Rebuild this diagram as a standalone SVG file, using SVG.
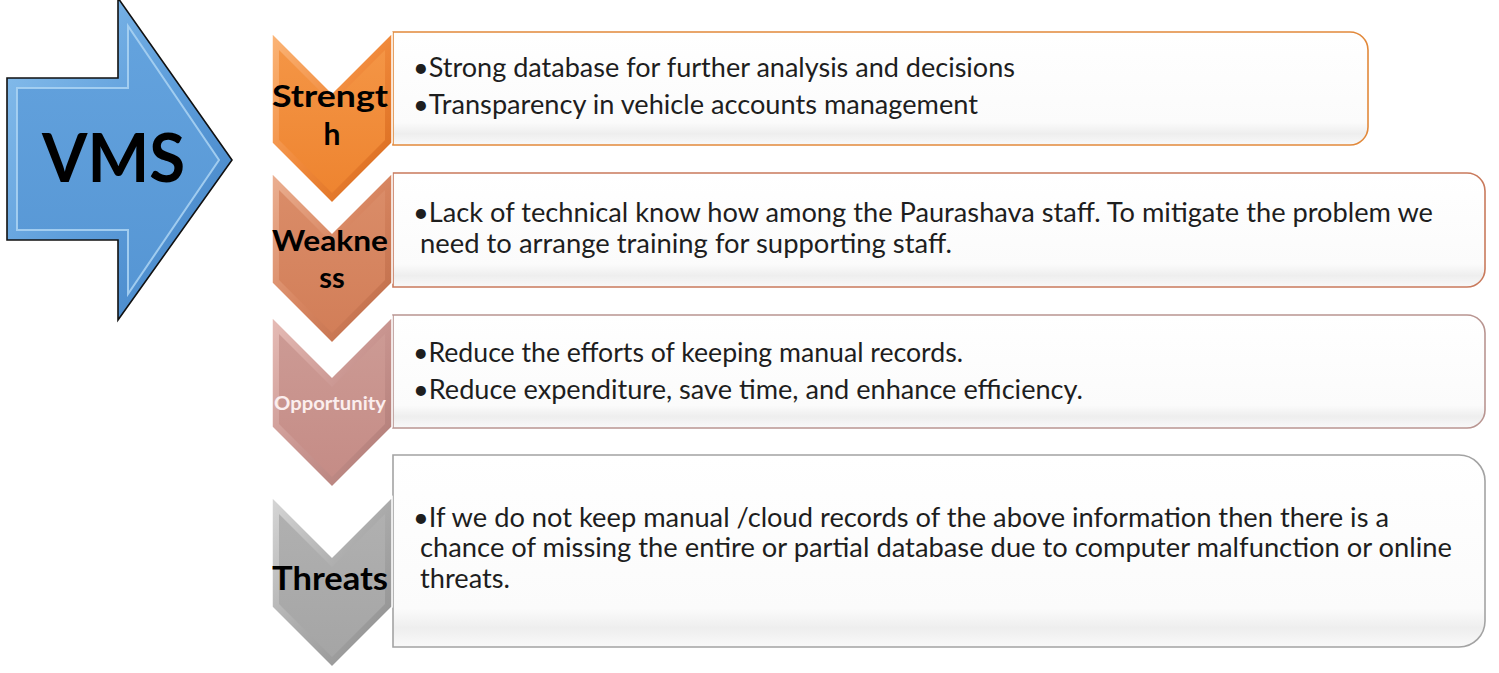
<svg xmlns="http://www.w3.org/2000/svg" width="1499" height="673" viewBox="0 0 1499 673">
<style>
.txt{font-family:Lato,"Open Sans","Liberation Sans",sans-serif;font-size:27px;fill:#1e1e1e}
.lbl{font-family:Lato,"Liberation Sans",sans-serif;font-weight:bold;fill:#000}
.box{stroke-width:1.6}
.chev{stroke:#ffffff;stroke-width:1.5}
</style>
<defs>
<linearGradient id="boxFill" x1="0" y1="0" x2="0" y2="1">
<stop offset="0" stop-color="#ffffff"/><stop offset="0.8" stop-color="#fbfbfb"/><stop offset="0.9" stop-color="#eeeeee"/><stop offset="1" stop-color="#f9f9f9"/>
</linearGradient>
<linearGradient id="blueOuter" x1="0" y1="0" x2="1" y2="1">
<stop offset="0" stop-color="#8cc2ee"/><stop offset="0.5" stop-color="#5e9edb"/><stop offset="1" stop-color="#3f7fc2"/>
</linearGradient>
<linearGradient id="blueInner" x1="0" y1="0" x2="0" y2="1">
<stop offset="0" stop-color="#64a3de"/><stop offset="1" stop-color="#5696d4"/>
</linearGradient>
<linearGradient id="orO" x1="0" y1="0" x2="1" y2="1"><stop offset="0" stop-color="#fbb578"/><stop offset="0.5" stop-color="#f0893a"/><stop offset="1" stop-color="#d5661a"/></linearGradient>
<linearGradient id="orI" x1="0" y1="0" x2="0" y2="1"><stop offset="0" stop-color="#f49545"/><stop offset="1" stop-color="#ee8430"/></linearGradient>
<linearGradient id="teO" x1="0" y1="0" x2="1" y2="1"><stop offset="0" stop-color="#ebb092"/><stop offset="0.5" stop-color="#d78560"/><stop offset="1" stop-color="#bb6946"/></linearGradient>
<linearGradient id="teI" x1="0" y1="0" x2="0" y2="1"><stop offset="0" stop-color="#da8c68"/><stop offset="1" stop-color="#d27e58"/></linearGradient>
<linearGradient id="piO" x1="0" y1="0" x2="1" y2="1"><stop offset="0" stop-color="#e6bcb6"/><stop offset="0.5" stop-color="#c99590"/><stop offset="1" stop-color="#ad7873"/></linearGradient>
<linearGradient id="piI" x1="0" y1="0" x2="0" y2="1"><stop offset="0" stop-color="#cc9a94"/><stop offset="1" stop-color="#c58c86"/></linearGradient>
<linearGradient id="grO" x1="0" y1="0" x2="1" y2="1"><stop offset="0" stop-color="#d6d6d6"/><stop offset="0.5" stop-color="#ababab"/><stop offset="1" stop-color="#8c8c8c"/></linearGradient>
<linearGradient id="grI" x1="0" y1="0" x2="0" y2="1"><stop offset="0" stop-color="#b0b0b0"/><stop offset="1" stop-color="#a5a5a5"/></linearGradient>
<path id="chevOuter" d="M0,0 L60,60 L120,0 L120,110 L60,170 L0,110 Z"/>
<path id="chevInner" d="M7,16.9 L60,69.9 L113,16.9 L113,107.1 L60,160.1 L7,107.1 Z"/>
</defs>
<rect width="1499" height="673" fill="#ffffff"/>

<g id="vms">
<path d="M7,78 H118 V-2 L232,160 L118,320 V240 H7 Z" fill="url(#blueOuter)" stroke="#111" stroke-width="1.6"/>
<path d="M17,88 H128 V26 L219,160 L128,294 V230 H17 Z" fill="url(#blueInner)" stroke="#a9d2f2" stroke-width="2" stroke-opacity="0.9"/>
<text class="lbl" x="42" y="182" font-size="66" textLength="143" lengthAdjust="spacingAndGlyphs">VMS</text>
</g>

<g id="strength">
<path class="box" d="M393,32 H1350 A18,18 0 0 1 1368,50 V127 A18,18 0 0 1 1350,145 H393 Z" fill="url(#boxFill)" stroke="#e2893b"/>
<g transform="translate(272,33)">
<use href="#chevOuter" class="chev" fill="url(#orO)"/>
<use href="#chevInner" fill="url(#orI)"/>
</g>
<text class="lbl" x="272" y="107" font-size="30" textLength="116" lengthAdjust="spacingAndGlyphs">Strengt</text>
<text class="lbl" x="332" y="145" font-size="30" text-anchor="middle">h</text>
<text class="txt" x="413" y="77" textLength="602" lengthAdjust="spacingAndGlyphs">•Strong database for further analysis and decisions</text>
<text class="txt" x="413" y="114" textLength="565" lengthAdjust="spacingAndGlyphs">•Transparency in vehicle accounts management</text>
</g>

<g id="weakness">
<path class="box" d="M393,173 H1467 A18,18 0 0 1 1485,191 V269 A18,18 0 0 1 1467,287 H393 Z" fill="url(#boxFill)" stroke="#c97a5c"/>
<g transform="translate(272,173)">
<use href="#chevOuter" class="chev" fill="url(#teO)"/>
<use href="#chevInner" fill="url(#teI)"/>
</g>
<text class="lbl" x="272" y="251" font-size="29" textLength="116" lengthAdjust="spacingAndGlyphs">Weakne</text>
<text class="lbl" x="332" y="288" font-size="29" text-anchor="middle">ss</text>
<text class="txt" x="413" y="222" textLength="1020" lengthAdjust="spacingAndGlyphs">•Lack of technical know how among the Paurashava staff. To mitigate the problem we</text>
<text class="txt" x="420" y="253" textLength="532" lengthAdjust="spacingAndGlyphs">need to arrange training for supporting staff.</text>
</g>

<g id="opportunity">
<path class="box" d="M393,315 H1467 A18,18 0 0 1 1485,333 V410 A18,18 0 0 1 1467,428 H393 Z" fill="url(#boxFill)" stroke="#b99591"/>
<g transform="translate(272,317)">
<use href="#chevOuter" class="chev" fill="url(#piO)"/>
<use href="#chevInner" fill="url(#piI)"/>
</g>
<text class="lbl" x="274" y="410" font-size="19" style="fill:#fbeeee" textLength="112" lengthAdjust="spacingAndGlyphs">Opportunity</text>
<text class="txt" x="413" y="362" textLength="550" lengthAdjust="spacingAndGlyphs">•Reduce the efforts of keeping manual records.</text>
<text class="txt" x="413" y="399" textLength="670" lengthAdjust="spacingAndGlyphs">•Reduce expenditure, save time, and enhance efficiency.</text>
</g>

<g id="threats">
<path class="box" d="M393,455 H1459 A26,26 0 0 1 1485,481 V621 A26,26 0 0 1 1459,647 H393 Z" fill="url(#boxFill)" stroke="#a3a3a3"/>
<g transform="translate(272,497)">
<use href="#chevOuter" class="chev" fill="url(#grO)"/>
<use href="#chevInner" fill="url(#grI)"/>
</g>
<text class="lbl" x="272" y="590" font-size="32" textLength="116" lengthAdjust="spacingAndGlyphs">Threats</text>
<text class="txt" x="413" y="527" textLength="976" lengthAdjust="spacingAndGlyphs">•If we do not keep manual /cloud records of the above information then there is a</text>
<text class="txt" x="420" y="557" textLength="1032" lengthAdjust="spacingAndGlyphs">chance of missing the entire or partial database due to computer malfunction or online</text>
<text class="txt" x="420" y="588" textLength="90" lengthAdjust="spacingAndGlyphs">threats.</text>
</g>
</svg>
